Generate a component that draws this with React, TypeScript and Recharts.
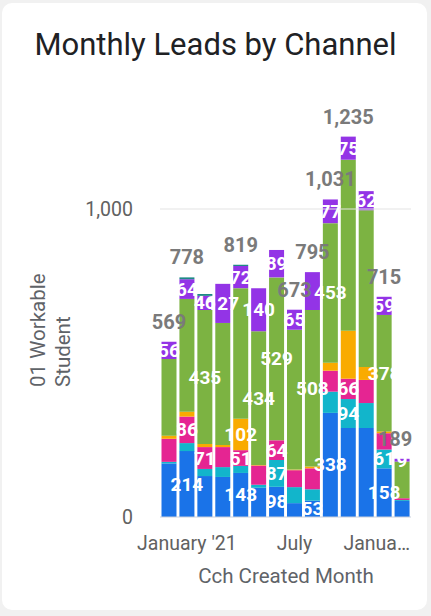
import React from "react";
import { ComposedChart, Bar, Line, XAxis, YAxis, ReferenceLine, LabelList } from "recharts";

const months = [
  "2020-12", "2021-01", "2021-02", "2021-03", "2021-04", "2021-05", "2021-06",
  "2021-07", "2021-08", "2021-09", "2021-10", "2021-11", "2021-12", "2022-01",
];
const blue = [174, 214, 133, 130, 143, 95, 98, 45, 53, 338, 289, 289, 158, 52];
const teal = [5, 26, 23, 32, 23, 10, 87, 52, 37, 69, 94, 81, 61, 3];
const pink = [75, 86, 71, 65, 51, 62, 64, 55, 68, 68, 66, 75, 53, 6];
const orange = [10, 16, 10, 7, 102, 2, 0, 2, 6, 26, 156, 42, 6, 0];
const green = [249, 366, 435, 396, 424, 434, 529, 454, 508, 453, 555, 509, 378, 119];
const purple = [56, 64, 46, 127, 72, 140, 89, 65, 123, 77, 75, 62, 59, 9];
const other = [0, 6, 6, 0, 4, 0, 0, 0, 0, 0, 0, 0, 0, 0];

// indices of bars whose labels are visible in the reference
const blueLabelAt = [1, 4, 6, 8, 9, 12];
const tealLabelAt = [6, 10, 12];
const pinkLabelAt = [1, 2, 4, 6, 10];
const orangeLabelAt = [4];
const greenLabelAt = [2, 5, 6, 8, 9, 12];
const purpleLabelAt = [0, 1, 2, 3, 4, 5, 6, 7, 9, 10, 11, 12, 13];
const totalLabelAt = [0, 1, 4, 7, 8, 9, 10, 12, 13];

const xTickValues = ["2021-01", "2021-07", "2022-01"];
const xTickLabels = ["January '21", "July", "Janua\u2026"];
const yTicks = [0, 1000];

const series = [
  { key: "blue", values: blue, color: "#1A73E8", labelAt: blueLabelAt },
  { key: "teal", values: teal, color: "#12B5CB", labelAt: tealLabelAt },
  { key: "pink", values: pink, color: "#E52592", labelAt: pinkLabelAt },
  { key: "orange", values: orange, color: "#F9AB00", labelAt: orangeLabelAt },
  { key: "green", values: green, color: "#7CB342", labelAt: greenLabelAt },
  { key: "purple", values: purple, color: "#9334E6", labelAt: purpleLabelAt },
  { key: "other", values: other, color: "#1E8A86", labelAt: [] as number[] },
];

const data = months.map((m, i) => {
  const row: any = { month: m };
  let total = 0;
  series.forEach((s) => {
    row[s.key] = s.values[i];
    row[s.key + "Lbl"] = s.labelAt.includes(i) ? s.values[i] : null;
    total += s.values[i];
  });
  row.total = total;
  row.totalLbl = totalLabelAt.includes(i) ? total : null;
  return row;
});

const FONT = "Roboto, 'Noto Sans', sans-serif";

const SegLabel = (props: any) => {
  const { x, y, width, height, value } = props;
  if (value === null || value === undefined) return null;
  return (
    <text
      x={Number(x) + Number(width) / 2}
      y={Number(y) + Number(height) / 2}
      fill="#ffffff"
      fontSize={19}
      fontWeight={700}
      fontFamily={FONT}
      textAnchor="middle"
      dominantBaseline="central"
    >
      {value}
    </text>
  );
};

const TotalLabel = (props: any) => {
  const { x, y, value } = props;
  if (value === null || value === undefined) return null;
  let cx = Number(x);
  if (cx + 16 > 411) cx = 411 - 16;
  return (
    <text
      x={cx}
      y={Number(y) - 20}
      fill="#7a7a7a"
      fontSize={20}
      fontWeight={700}
      fontFamily={FONT}
      textAnchor="middle"
      dominantBaseline="central"
    >
      {Number(value).toLocaleString("en-US")}
    </text>
  );
};

const XTick = (props: any) => {
  const { x, y, payload } = props;
  const idx = xTickValues.indexOf(payload.value);
  if (idx < 0) return null;
  const label = xTickLabels[idx];
  const last = idx === xTickValues.length - 1;
  return (
    <text
      x={last ? 410 : x}
      y={Number(y) + 33}
      fill="#616161"
      fontSize={19.5}
      fontFamily={FONT}
      textAnchor={last ? "end" : "middle"}
    >
      {label}
    </text>
  );
};

export default function App() {
  return (
    <div
      style={{
        position: "absolute",
        left: 0,
        top: 0,
        width: 431,
        height: 616,
        background: "#f1f1f1",
        overflow: "hidden",
      }}
    >
      <div
        style={{
          position: "absolute",
          left: 2,
          top: 3,
          width: 425,
          height: 607,
          background: "#ffffff",
          borderRadius: 10,
        }}
      />
      <div style={{ position: "absolute", left: 0, top: 0 }}>
        <ComposedChart
          width={431}
          height={616}
          data={data}
          margin={{ top: 116.6, right: 20, bottom: 0, left: 0 }}
          barCategoryGap={1.5}
        >
          <XAxis
            dataKey="month"
            type="category"
            ticks={xTickValues}
            interval={0}
            height={99}
            tickLine={false}
            tickSize={0}
            tickMargin={0}
            axisLine={{ stroke: "#c9d0dc" }}
            tick={<XTick />}
          />
          <YAxis
            width={160}
            domain={[0, 1300]}
            ticks={yTicks}
            axisLine={false}
            tickLine={false}
            tickSize={0}
            tickMargin={27}
            tick={{ fill: "#616161", fontSize: 19.5, fontFamily: FONT }}
            tickFormatter={(v: number) => v.toLocaleString("en-US")}
          />
          <ReferenceLine y={1000} stroke="#e3e3e3" />
          {series.map((s) => (
            <Bar
              key={s.key}
              dataKey={s.key}
              stackId="a"
              fill={s.color}
              isAnimationActive={false}
            >
              <LabelList dataKey={s.key + "Lbl"} content={<SegLabel />} />
            </Bar>
          ))}
          <Line
            dataKey="total"
            stroke="none"
            dot={false}
            activeDot={false}
            legendType="none"
            isAnimationActive={false}
          >
            <LabelList dataKey="totalLbl" content={<TotalLabel />} />
          </Line>
        </ComposedChart>
      </div>
      <svg
        width={431}
        height={616}
        style={{ position: "absolute", left: 0, top: 0, pointerEvents: "none" }}
      >
        <text
          x={215.5}
          y={55}
          textAnchor="middle"
          fontSize={31}
          fontFamily={FONT}
          fill="#202124"
        >
          Monthly Leads by Channel
        </text>
        <text
          transform="translate(45,387) rotate(-90)"
          fontSize={20.5}
          fontFamily={FONT}
          fill="#5f6368"
        >
          01 Workable
        </text>
        <text
          transform="translate(70,387) rotate(-90)"
          fontSize={20.5}
          fontFamily={FONT}
          fill="#5f6368"
        >
          Student
        </text>
        <text
          x={286}
          y={583}
          textAnchor="middle"
          fontSize={20.5}
          fontFamily={FONT}
          fill="#5f6368"
        >
          Cch Created Month
        </text>
      </svg>
    </div>
  );
}
